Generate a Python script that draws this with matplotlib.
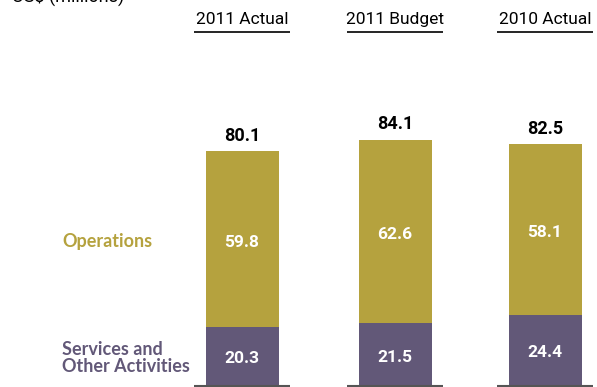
import numpy as np
import matplotlib.pyplot as plt

# ── data ─────────────────────────────────────────────────────────────────────
columns    = ["2011 Actual", "2011 Budget", "2010 Actual"]
services   = [20.3, 21.5, 24.4]
operations = [59.8, 62.6, 58.1]
totals     = [80.1, 84.1, 82.5]

GOLD   = "#B5A23E"
PURPLE = "#625878"
HEAD_FONT  = ["Roboto", "DejaVu Sans"]
NUM_FONT   = ["Roboto", "DejaVu Sans"]
LABEL_FONT = ["Lato", "DejaVu Sans"]

# layout, in pixel-like x units across the canvas
centers = [242, 395, 545]
bar_w = 73
rule_w = 96
PX = 2.93          # pixels per US$ million on the y axis

fig = plt.figure(figsize=(5.97, 3.87), dpi=100)
ax = fig.add_axes([0, 0, 1, 1])
ax.set_xlim(0, 597)
ax.set_ylim(-1 / PX, 386 / PX)
ax.axis("off")

ax.bar(centers, services, width=bar_w, color=PURPLE, linewidth=0)
ax.bar(centers, operations, width=bar_w, bottom=services, color=GOLD, linewidth=0)

# header row positions, in data units
head_y = (387 - 25) / PX
rule_y = (387 - 33) / PX

for cx, col, s, o, t in zip(centers, columns, services, operations, totals):
    ax.text(cx, s / 2 - 0.9, f"{s:.1f}", ha="center", va="center", color="white",
            fontsize=12.5, fontweight="bold", family=NUM_FONT)
    ax.text(cx, s + o / 2 - 1.2, f"{o:.1f}", ha="center", va="center", color="white",
            fontsize=12.5, fontweight="bold", family=NUM_FONT)
    ax.text(cx, t + 2.2, f"{t:.1f}", ha="center", va="bottom", color="black",
            fontsize=13, fontweight="bold", family=NUM_FONT)
    ax.text(cx, head_y, col, ha="center", va="baseline", color="black",
            fontsize=12.5, family=HEAD_FONT)
    ax.plot([cx - rule_w / 2, cx + rule_w / 2], [rule_y, rule_y],
            color="black", lw=1.2, solid_capstyle="butt")
    ax.plot([cx - rule_w / 2, cx + rule_w / 2], [0, 0],
            color="#555555", lw=1.5, solid_capstyle="butt")

# segment labels on the left
ax.text(62, (387 - 243) / PX, "Operations", ha="left", va="center",
        color=GOLD, fontsize=13, fontweight="bold", family=LABEL_FONT)
ax.text(62, (387 - 373) / PX, "Services and\nOther Activities", ha="left",
        va="baseline", color=PURPLE, fontsize=13, fontweight="bold",
        family=LABEL_FONT, linespacing=1.0)

ax.text(12, (387 - 3) / PX, "US$ (millions)", ha="left", va="baseline",
        color="black", fontsize=13, family=HEAD_FONT)

fig.savefig("out.png", dpi=100)
